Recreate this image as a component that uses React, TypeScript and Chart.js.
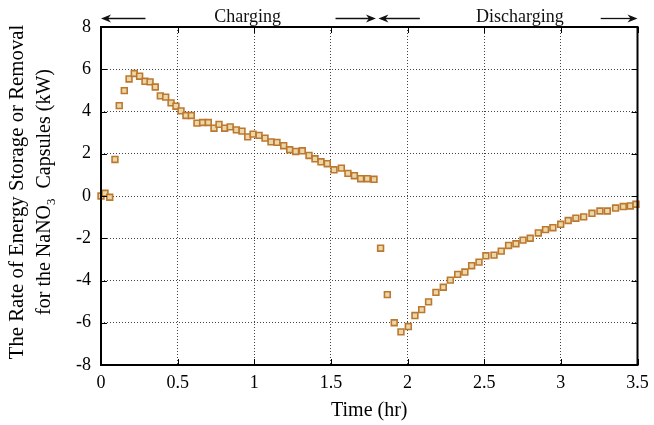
import React, { useEffect, useRef } from 'react';
import { Chart, registerables } from 'chart.js';

Chart.register(...registerables);

// ---- Data ----
const chargeTime = [
  0, 0.026, 0.057, 0.091, 0.119, 0.152, 0.183, 0.217, 0.252, 0.287, 0.32, 0.354, 0.387,
  0.422, 0.457, 0.489, 0.522, 0.554, 0.589, 0.626, 0.663, 0.7, 0.737, 0.77, 0.807, 0.843,
  0.883, 0.92, 0.957, 0.992, 1.031, 1.07, 1.109, 1.148, 1.192, 1.231, 1.27, 1.313, 1.357,
  1.396, 1.435, 1.476, 1.52, 1.568, 1.611, 1.653, 1.694, 1.737, 1.781,
];
const chargeRate = [
  0, 0.13, -0.06, 1.73, 4.28, 4.99, 5.54, 5.8, 5.67, 5.43, 5.4, 5.16, 4.74,
  4.68, 4.41, 4.25, 4.03, 3.81, 3.81, 3.45, 3.48, 3.48, 3.21, 3.39, 3.21, 3.27,
  3.13, 3.07, 2.8, 2.93, 2.87, 2.74, 2.56, 2.54, 2.38, 2.19, 2.11, 2.14, 1.92,
  1.76, 1.62, 1.53, 1.24, 1.32, 1.07, 0.96, 0.82, 0.82, 0.79,
];
const dischargeTime = [
  1.824, 1.868, 1.913, 1.957, 2.005, 2.048, 2.092, 2.137, 2.185, 2.233, 2.279, 2.327,
  2.374, 2.418, 2.466, 2.511, 2.564, 2.611, 2.659, 2.707, 2.753, 2.8, 2.853, 2.9, 2.948,
  2.999, 3.048, 3.098, 3.149, 3.203, 3.255, 3.303, 3.357, 3.407, 3.453, 3.49,
];
const dischargeRate = [
  -2.47, -4.67, -6.0, -6.43, -6.18, -5.66, -5.38, -5.01, -4.56, -4.32, -3.98, -3.71,
  -3.6, -3.3, -3.13, -2.83, -2.8, -2.61, -2.34, -2.26, -2.09, -2.0, -1.75, -1.59, -1.5,
  -1.34, -1.16, -1.05, -0.99, -0.82, -0.71, -0.71, -0.57, -0.5, -0.47, -0.39,
];
const xTickValues = [0, 0.5, 1, 1.5, 2, 2.5, 3, 3.5];
const yTickValues = [-8, -6, -4, -2, 0, 2, 4, 6, 8];

// phase annotations (hours)
const phaseLabels = ['Charging', 'Discharging'];
const phaseStart = [0, 1.8];
const phaseEnd = [1.8, 3.5];
const phaseLabelAt = [0.957, 2.733];
const phaseLeftTail = [0.29, 2.08];
const phaseRightTail = [1.53, 3.26];

const yTitleLine1 = 'The Rate of Energy Storage or Removal';
const yTitleLine2a = 'for the NaNO';
const yTitleSub = '3';
const yTitleLine2b = '  Capsules (kW)';
const xTitle = 'Time (hr)';

const SERIF = '"Liberation Serif", "Times New Roman", serif';
const POINT_BORDER = '#BD7830';
const POINT_FILL = '#EAD8A8';

function drawArrow(ctx: CanvasRenderingContext2D, x1: number, x2: number, y: number) {
  const dir = x2 > x1 ? 1 : -1;
  ctx.beginPath();
  ctx.moveTo(x1, y);
  ctx.lineTo(x2 - dir * 6, y);
  ctx.stroke();
  ctx.beginPath();
  ctx.moveTo(x2, y);
  ctx.lineTo(x2 - dir * 10, y - 4);
  ctx.lineTo(x2 - dir * 7, y);
  ctx.lineTo(x2 - dir * 10, y + 4);
  ctx.closePath();
  ctx.fill();
}

const decorPlugin = {
  id: 'decor',
  afterDraw(chart: any) {
    const { ctx, chartArea, scales } = chart;
    const { left, right, top, bottom } = chartArea;
    const xs = scales.x;
    const ys = scales.y;
    ctx.save();
    // inner ticks
    ctx.strokeStyle = '#000';
    ctx.lineWidth = 1;
    ctx.beginPath();
    xTickValues.forEach((v) => {
      const px = Math.round(xs.getPixelForValue(v)) + 0.5;
      ctx.moveTo(px, bottom);
      ctx.lineTo(px, bottom - 6);
      ctx.moveTo(px, top);
      ctx.lineTo(px, top + 6);
    });
    yTickValues.forEach((v) => {
      const py = Math.round(ys.getPixelForValue(v)) + 0.5;
      ctx.moveTo(left, py);
      ctx.lineTo(left + 6, py);
      ctx.moveTo(right, py);
      ctx.lineTo(right - 6, py);
    });
    ctx.stroke();
    // frame
    ctx.lineWidth = 2;
    ctx.strokeRect(left, top, right - left, bottom - top);

    // phase annotations
    ctx.fillStyle = '#111';
    ctx.strokeStyle = '#111';
    ctx.lineWidth = 1.3;
    const ay = 18.5;
    phaseLabels.forEach((lab, i) => {
      const s = xs.getPixelForValue(phaseStart[i]);
      const e = xs.getPixelForValue(phaseEnd[i]);
      drawArrow(ctx, xs.getPixelForValue(phaseLeftTail[i]), s + (i === 0 ? 0 : 1.5), ay);
      drawArrow(ctx, xs.getPixelForValue(phaseRightTail[i]), e - (i === 0 ? 1 : 0), ay);
      ctx.font = `18px ${SERIF}`;
      ctx.textAlign = 'center';
      ctx.textBaseline = 'alphabetic';
      ctx.fillText(lab, xs.getPixelForValue(phaseLabelAt[i]), 21.5);
    });

    // y axis title (two lines, rotated, with subscript)
    const cy = 192;
    ctx.fillStyle = '#000';
    ctx.textBaseline = 'alphabetic';
    ctx.textAlign = 'left';
    ctx.save();
    ctx.translate(22.5, cy);
    ctx.rotate(-Math.PI / 2);
    ctx.font = `20.8px ${SERIF}`;
    const w1 = ctx.measureText(yTitleLine1).width;
    ctx.fillText(yTitleLine1, -w1 / 2, 0);
    ctx.restore();

    ctx.save();
    ctx.translate(50, cy);
    ctx.rotate(-Math.PI / 2);
    ctx.font = `20px ${SERIF}`;
    const wa = ctx.measureText(yTitleLine2a).width;
    const wb = ctx.measureText(yTitleLine2b).width;
    ctx.font = `13px ${SERIF}`;
    const ws = ctx.measureText(yTitleSub).width;
    let x0 = -(wa + ws + wb) / 2;
    ctx.font = `20px ${SERIF}`;
    ctx.fillText(yTitleLine2a, x0, 0);
    x0 += wa;
    ctx.font = `13px ${SERIF}`;
    ctx.fillText(yTitleSub, x0, 5);
    x0 += ws;
    ctx.font = `20px ${SERIF}`;
    ctx.fillText(yTitleLine2b, x0, 0);
    ctx.restore();

    ctx.restore();
  },
};

export default function App() {
  const canvasRef = useRef<HTMLCanvasElement | null>(null);

  useEffect(() => {
    if (!canvasRef.current) return;
    const pointStyle = {
      pointStyle: 'rect' as const,
      pointRadius: 4.1,
      pointHoverRadius: 4.1,
      pointBorderWidth: 1.6,
      pointBorderColor: POINT_BORDER,
      pointBackgroundColor: POINT_FILL,
      backgroundColor: POINT_FILL,
      borderColor: POINT_BORDER,
      showLine: false,
      clip: false as const,
    };
    const chart = new Chart(canvasRef.current, {
      type: 'scatter',
      data: {
        datasets: [
          {
            label: 'Charging',
            data: chargeTime.map((t, i) => ({ x: t, y: chargeRate[i] })),
            ...pointStyle,
          },
          {
            label: 'Discharging',
            data: dischargeTime.map((t, i) => ({ x: t, y: dischargeRate[i] })),
            ...pointStyle,
          },
        ],
      },
      options: {
        responsive: false,
        animation: false,
        devicePixelRatio: 1,
        layout: { padding: { top: 27, right: 16.5, left: 0, bottom: 0 } },
        plugins: {
          legend: { display: false },
          tooltip: { enabled: false },
          title: { display: false },
        },
        scales: {
          x: {
            type: 'linear',
            min: 0,
            max: 3.5,
            afterFit: (scale: any) => {
              scale.height = 60;
              scale.paddingLeft = 0;
              scale.paddingRight = 0;
            },
            afterBuildTicks: (scale: any) => {
              scale.ticks = xTickValues.map((v) => ({ value: v }));
            },
            ticks: {
              color: '#000',
              font: { family: SERIF, size: 18 },
              padding: 7,
              maxRotation: 0,
              autoSkip: false,
              callback: (v: any) => String(v),
            },
            grid: {
              color: '#444',
              lineWidth: 1,
              drawTicks: false,
            },
            border: { display: false, dash: [1, 2] },
            title: {
              display: true,
              text: xTitle,
              color: '#000',
              font: { family: SERIF, size: 20 },
              padding: { top: 0, bottom: 2 },
            },
          },
          y: {
            type: 'linear',
            min: -8,
            max: 8,
            afterFit: (scale: any) => {
              scale.width = 101;
              scale.paddingTop = 0;
              scale.paddingBottom = 0;
            },
            afterBuildTicks: (scale: any) => {
              scale.ticks = yTickValues.map((v) => ({ value: v }));
            },
            ticks: {
              color: '#000',
              font: { family: SERIF, size: 18 },
              padding: 10,
              autoSkip: false,
              callback: (v: any) => String(v),
            },
            grid: {
              color: '#444',
              lineWidth: 1,
              drawTicks: false,
            },
            border: { display: false, dash: [1, 2] },
          },
        },
      },
      plugins: [decorPlugin],
    });
    return () => chart.destroy();
  }, []);

  return (
    <div style={{ position: 'fixed', left: 0, top: 0, width: 654, height: 425, background: '#fff' }}>
      <canvas ref={canvasRef} width={654} height={425} style={{ display: 'block' }} />
    </div>
  );
}
